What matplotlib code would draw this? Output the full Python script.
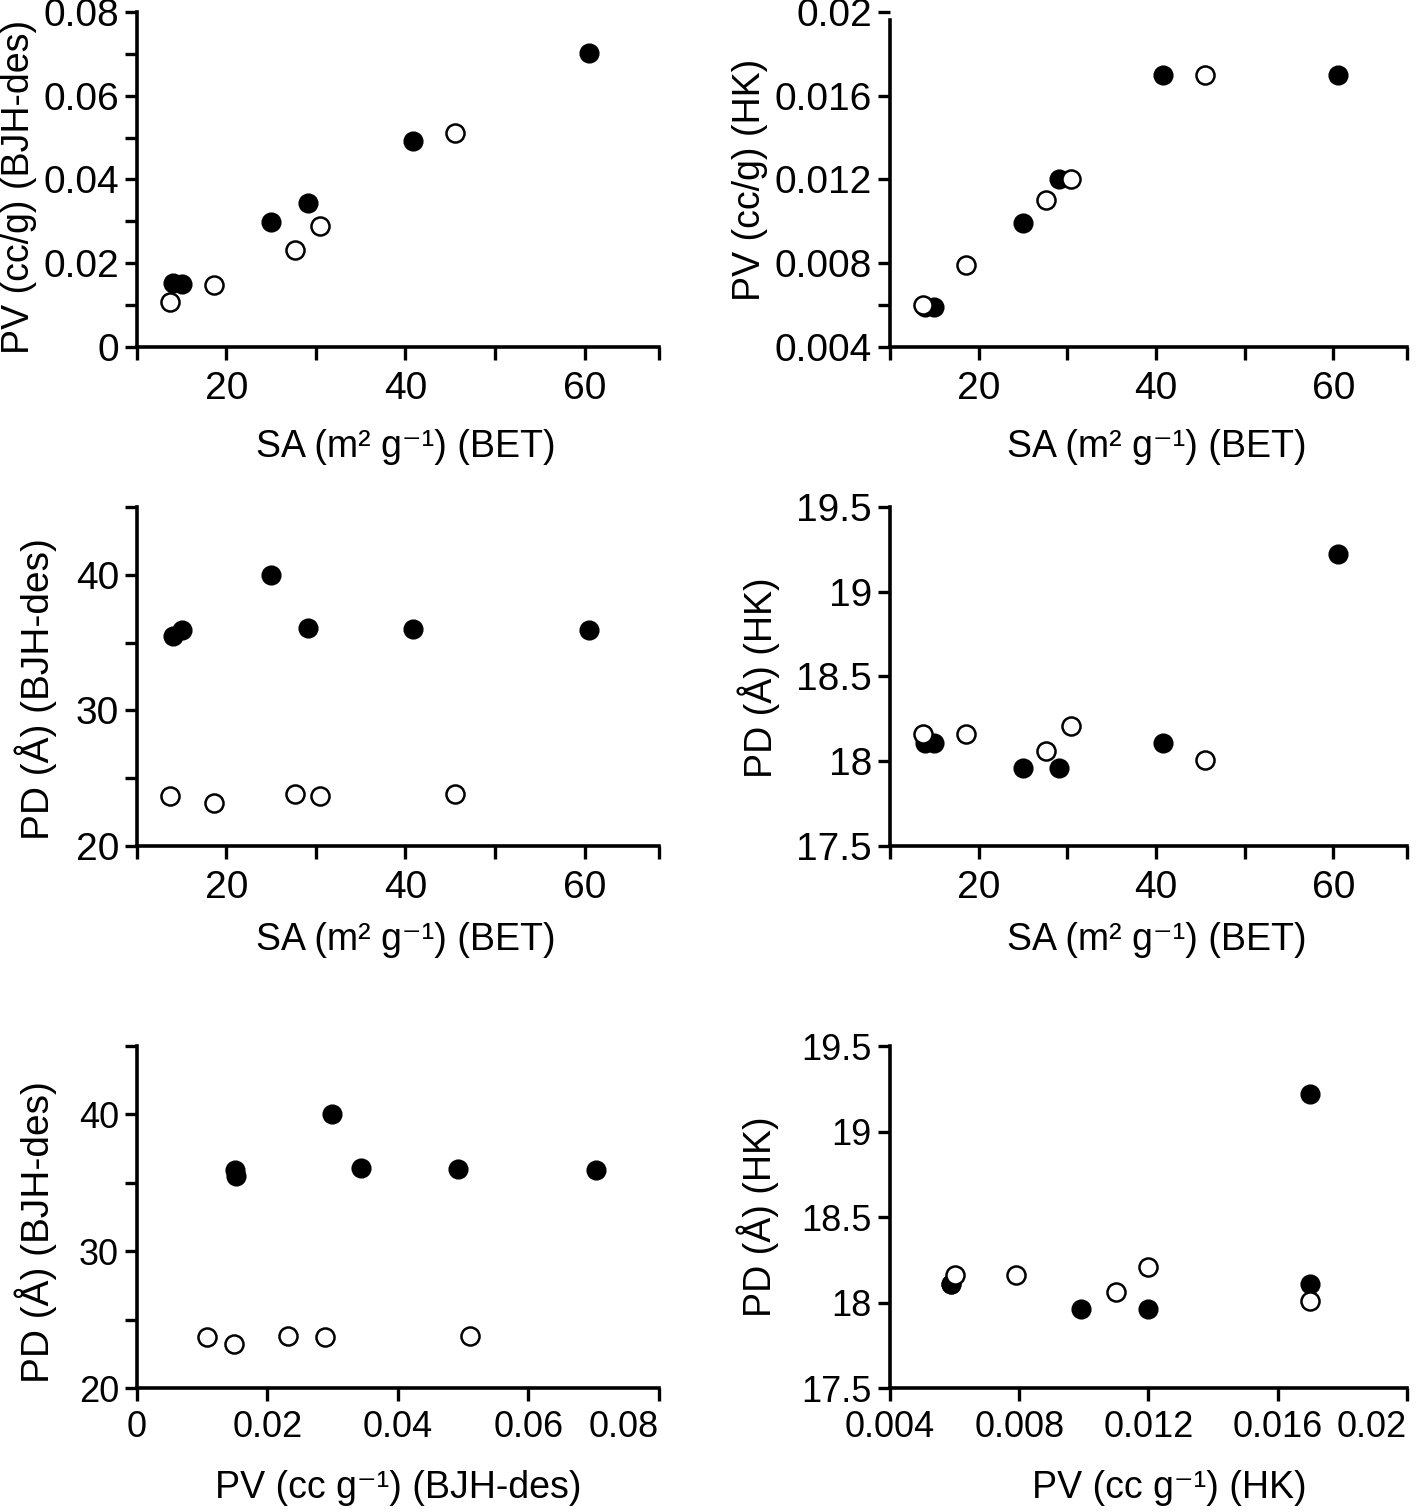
import numpy as np
import matplotlib
matplotlib.use("Agg")
import matplotlib.pyplot as plt

plt.rcParams['font.family'] = ['Liberation Sans', 'DejaVu Sans']

# -------------------------------------------------
# data (filled = one sample set, open = the other)
# -------------------------------------------------
sa_filled = [14.0, 15.0, 25.0, 29.1, 40.8, 60.5]
sa_open = [13.7, 18.6, 27.6, 30.4, 45.5]

pv_bjh_filled = [0.0152, 0.0150, 0.0299, 0.0343, 0.0492, 0.0703]
pv_bjh_open = [0.0108, 0.0149, 0.0231, 0.0288, 0.0510]

pv_hk_filled = [0.0059, 0.0059, 0.0099, 0.0120, 0.0170, 0.0170]
pv_hk_open = [0.0060, 0.0079, 0.0110, 0.0120, 0.0170]

pd_bjh_filled = [35.5, 35.9, 40.0, 36.1, 36.0, 35.9]
pd_bjh_open = [23.7, 23.2, 23.8, 23.7, 23.8]

pd_hk_filled = [18.11, 18.11, 17.96, 17.96, 18.11, 19.22]
pd_hk_open = [18.16, 18.16, 18.06, 18.21, 18.01]

sa_label = 'SA (m² g⁻¹) (BET)'

TICK_FS = 28
LAB_FS = 27
MS = 13

fig = plt.figure(figsize=(14.18, 15.12), dpi=100)

# axes boxes in figure fraction
left_col = (0.0966, 0.368)
right_col = (0.6276, 0.3646)
rows = [(0.7705, 0.2216), (0.4405, 0.2242), (0.0820, 0.2262)]


def style(ax, fs=TICK_FS, xpad=8):
    for s in ['top', 'right']:
        ax.spines[s].set_visible(False)
    for s in ['left', 'bottom']:
        ax.spines[s].set_linewidth(2.6)
    ax.tick_params(direction='out', length=9, width=2.4, labelsize=fs)
    ax.tick_params(axis='x', pad=xpad)
    ax.tick_params(axis='y', pad=4)


def points(ax, xf, yf, xo, yo, open_on_top=True):
    zf, zo = (3, 4) if open_on_top else (4, 3)
    ax.plot(xf, yf, 'o', ms=MS, color='black', mec='black', mew=1.5,
            clip_on=False, zorder=zf)
    ax.plot(xo, yo, 'o', ms=MS, mfc='white', mec='black', mew=1.8,
            clip_on=False, zorder=zo)


def sa_axis(ax):
    end = 68.3
    ax.set_xlim(10, end)
    ax.set_xticks([10, 20, 30, 40, 50, 60, end])
    ax.set_xticklabels(['', '20', '', '40', '', '60', ''])


def ylab(ax, text, x, y, fs=LAB_FS):
    ax.set_ylabel(text, fontsize=fs, va='baseline')
    ax.yaxis.set_label_coords(x, y)


def xlab(ax, text, x, y, fs=LAB_FS):
    ax.set_xlabel(text, fontsize=fs, va='baseline')
    ax.xaxis.set_label_coords(x, y)


fmt_num = lambda v: '0' if v == 0 else ('%g' % v)

axes = []
for r in rows:
    for c in (left_col, right_col):
        axes.append(fig.add_axes([c[0], r[0], c[1], r[1]]))

a1, a2, a3, a4, a5, a6 = axes
for ax in (a1, a2, a3, a4):
    style(ax)
for ax in (a5, a6):
    style(ax, fs=26, xpad=7)

# ---- panel 1: PV (BJH) vs SA
points(a1, sa_filled, pv_bjh_filled, sa_open, pv_bjh_open, open_on_top=False)
sa_axis(a1)
a1.set_ylim(0, 0.08)
yt = np.round(np.arange(0, 0.0801, 0.01), 3)
a1.set_yticks(yt)
a1.set_yticklabels([fmt_num(v) if i % 2 == 0 else '' for i, v in enumerate(yt)])
ylab(a1, 'PV (cc/g) (BJH-des)', -0.207, 0.478)

# ---- panel 2: PV (HK) vs SA
points(a2, sa_filled, pv_hk_filled, sa_open, pv_hk_open)
sa_axis(a2)
a2.set_ylim(0.004, 0.02)
a2.spines['left'].set_bounds(0.004, 0.0196)
a2.set_yticks([0.004, 0.006, 0.008, 0.012, 0.016, 0.02])
a2.set_yticklabels(['0.004', '', '0.008', '0.012', '0.016', '0.02'])
ylab(a2, 'PV (cc/g) (HK)', -0.252, 0.5)

# ---- panel 3: PD (BJH) vs SA
points(a3, sa_filled, pd_bjh_filled, sa_open, pd_bjh_open)
sa_axis(a3)
a3.set_ylim(20, 45)
a3.set_yticks([20, 25, 30, 35, 40, 45])
a3.set_yticklabels(['20', '', '30', '', '40', ''])
ylab(a3, 'PD (Å) (BJH-des)', -0.168, 0.463, fs=28)

# ---- panel 4: PD (HK) vs SA
points(a4, sa_filled, pd_hk_filled, sa_open, pd_hk_open)
sa_axis(a4)
a4.set_ylim(17.5, 19.5)
a4.set_yticks([17.5, 18, 18.5, 19, 19.5])
a4.set_yticklabels(['17.5', '18', '18.5', '19', '19.5'])
ylab(a4, 'PD (Å) (HK)', -0.228, 0.497)

xlab(a1, sa_label, 0.515, -0.328)
xlab(a2, sa_label, 0.517, -0.328)
xlab(a3, sa_label, 0.515, -0.307)
xlab(a4, sa_label, 0.517, -0.307)

# ---- panel 5: PD (BJH) vs PV (BJH)
points(a5, pv_bjh_filled, pd_bjh_filled, pv_bjh_open, pd_bjh_open)
a5.set_xlim(0, 0.08)
xt = [0, 0.02, 0.04, 0.06, 0.08]
a5.set_xticks(xt)
a5.set_xticklabels([fmt_num(v) for v in xt])
a5.get_xticklabels()[-1].set_ha('right')
a5.set_ylim(20, 45)
a5.set_yticks([20, 25, 30, 35, 40, 45])
a5.set_yticklabels(['20', '', '30', '', '40', ''])
ylab(a5, 'PD (Å) (BJH-des)', -0.168, 0.456, fs=28)
xlab(a5, 'PV (cc g⁻¹) (BJH-des)', 0.5, -0.322)

# ---- panel 6: PD (HK) vs PV (HK)
points(a6, pv_hk_filled, pd_hk_filled, pv_hk_open, pd_hk_open)
a6.set_xlim(0.004, 0.02)
xt = [0.004, 0.008, 0.012, 0.016, 0.02]
a6.set_xticks(xt)
a6.set_xticklabels([fmt_num(v) for v in xt])
a6.get_xticklabels()[-1].set_ha('right')
a6.set_ylim(17.5, 19.5)
a6.set_yticks([17.5, 18, 18.5, 19, 19.5])
a6.set_yticklabels(['17.5', '18', '18.5', '19', '19.5'])
ylab(a6, 'PD (Å) (HK)', -0.23, 0.5)
xlab(a6, 'PV (cc g⁻¹) (HK)', 0.54, -0.322)

fig.savefig('out.png', dpi=100)
plt.close(fig)
print("saved out.png")
